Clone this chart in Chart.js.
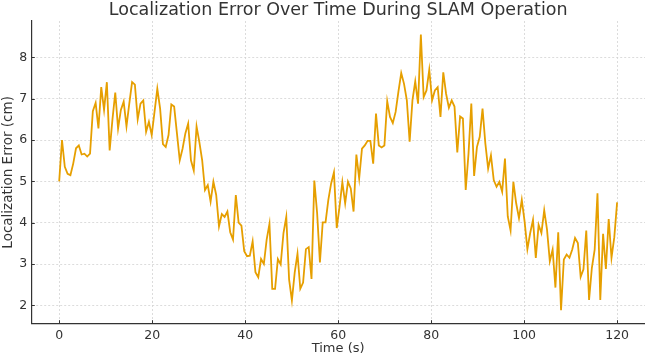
<!DOCTYPE html>
<html>
<head>
<meta charset="utf-8">
<script src="https://cdn.jsdelivr.net/npm/chart.js@4.4.0/dist/chart.umd.min.js"></script>
<style>
  html, body { margin: 0; padding: 0; background: #fff; }
  #wrap { width: 645px; height: 359px; }
</style>
</head>
<body>
<div id="wrap"><canvas id="errChart" width="645" height="359"></canvas></div>
<script>
// time samples: 200 evenly spaced readings between 0 s and 120 s
var tStart = 0, tEnd = 120, sampleCount = 200;

// localization error (cm)
var errorCm = [
  5.0, 6.0, 5.35, 5.18, 5.15, 5.43, 5.8, 5.87, 5.65, 5.67,
  5.6, 5.67, 6.7, 6.9, 6.28, 7.28, 6.73, 7.4, 5.75, 6.5,
  7.15, 6.28, 6.73, 6.93, 6.33, 6.88, 7.4, 7.34, 6.5, 6.88,
  6.96, 6.2, 6.44, 6.12, 6.68, 7.24, 6.76, 5.9, 5.83, 6.12,
  6.86, 6.81, 6.16, 5.51, 5.79, 6.16, 6.4, 5.51, 5.26, 6.33,
  5.95, 5.51, 4.79, 4.91, 4.51, 4.99, 4.67, 3.91, 4.21, 4.14,
  4.27, 3.77, 3.59, 4.67, 4.0, 3.93, 3.31, 3.19, 3.2, 3.55,
  2.8, 2.68, 3.12, 3.0, 3.59, 3.97, 2.4, 2.4, 3.12, 2.99,
  3.75, 4.14, 2.63, 2.12, 2.79, 3.25, 2.4, 2.55, 3.36, 3.41,
  2.64, 5.02, 4.23, 3.04, 4.01, 4.01, 4.55, 4.95, 5.22, 3.87,
  4.39, 4.98, 4.47, 4.99, 4.83, 4.27, 5.65, 5.07, 5.79, 5.87,
  5.98, 5.98, 5.43, 6.64, 5.87, 5.82, 5.87, 6.94, 6.56, 6.41,
  6.68, 7.17, 7.62, 7.36, 6.96, 5.96, 6.96, 7.42, 6.88, 8.55,
  7.04, 7.2, 7.7, 6.96, 7.2, 7.28, 6.56, 7.64, 7.12, 6.78,
  6.96, 6.81, 5.7, 6.57, 6.52, 4.79, 5.67, 6.88, 5.13, 5.83,
  6.08, 6.76, 5.92, 5.31, 5.63, 5.03, 4.87, 4.99, 4.75, 5.55,
  4.15, 3.81, 4.99, 4.47, 4.11, 4.55, 4.03, 3.36, 3.75, 4.07,
  3.15, 3.95, 3.75, 4.3, 3.83, 3.07, 3.35, 2.43, 3.77, 1.88,
  3.11, 3.23, 3.15, 3.35, 3.63, 3.51, 2.69, 2.87, 3.81, 2.13,
  2.91, 3.35, 4.71, 2.13, 3.73, 2.88, 4.09, 3.15, 3.65, 4.49
];

var xTicks = [0, 20, 40, 60, 80, 100, 120];
var yTicks = [2, 3, 4, 5, 6, 7, 8];

var points = [];
for (var i = 0; i < errorCm.length; i++) {
  points.push({ x: tStart + i * (tEnd - tStart) / (sampleCount - 1), y: errorCm[i] });
}

var textColor = '#333333';
var gridColor = '#d4d4d4';
var font = 'DejaVu Sans';

// matplotlib-style inward tick marks
var inwardTicks = {
  id: 'inwardTicks',
  afterLayout: function(chart) {
    // center the title over the plot area, not the whole canvas
    var tb = chart.titleBlock;
    if (tb) {
      tb.left = chart.chartArea.left;
      tb.right = chart.chartArea.right;
      tb.width = tb.right - tb.left;
    }
  },
  afterDraw: function(chart) {
    var c = chart.ctx, a = chart.chartArea;
    var xs = chart.scales.x, ys = chart.scales.y;
    c.save();
    c.strokeStyle = textColor;
    c.lineWidth = 1;
    xTicks.forEach(function(v) {
      var px = Math.round(xs.getPixelForValue(v)) + 0.5;
      c.beginPath(); c.moveTo(px, a.bottom); c.lineTo(px, a.bottom - 3.5); c.stroke();
    });
    yTicks.forEach(function(v) {
      var py = Math.round(ys.getPixelForValue(v)) + 0.5;
      c.beginPath(); c.moveTo(a.left, py); c.lineTo(a.left + 3.5, py); c.stroke();
    });
    c.restore();
  }
};

var ctx = document.getElementById('errChart').getContext('2d');
var chart = new Chart(ctx, {
  type: 'line',
  data: {
    datasets: [{
      label: 'Localization Error',
      data: points,
      borderColor: '#e69f00',
      borderWidth: 1.8,
      pointRadius: 0,
      tension: 0,
      fill: false
    }]
  },
  options: {
    responsive: false,
    animation: false,
    layout: { padding: 0 },
    plugins: {
      legend: { display: false },
      tooltip: { enabled: false },
      title: {
        display: true,
        text: 'Localization Error Over Time During SLAM Operation',
        color: textColor,
        font: { family: font, size: 17.5, weight: 'normal' },
        padding: { top: 0, bottom: 0 }
      }
    },
    scales: {
      x: {
        type: 'linear',
        min: -6,
        max: 126,
        afterBuildTicks: function(scale) {
          scale.ticks = xTicks.map(function(v) { return { value: v }; });
        },
        afterFit: function(scale) { scale.height = 35.3; },
        grid: { color: gridColor, lineWidth: 0.8, drawTicks: false },
        border: { display: true, color: textColor, width: 1.2, dash: [2, 2] },
        ticks: { color: textColor, font: { family: font, size: 12.5 }, padding: 5, maxRotation: 0 },
        title: {
          display: true,
          text: 'Time (s)',
          color: textColor,
          font: { family: font, size: 13 },
          padding: { top: 0, bottom: 3 }
        }
      },
      y: {
        min: 1.556,
        max: 8.88,
        afterBuildTicks: function(scale) {
          scale.ticks = yTicks.map(function(v) { return { value: v }; });
        },
        afterFit: function(scale) { scale.width = 31.3; },
        grid: { color: gridColor, lineWidth: 0.8, drawTicks: false },
        border: { display: true, color: textColor, width: 1.2, dash: [2, 2] },
        ticks: { color: textColor, font: { family: font, size: 12.5 }, padding: 4 },
        title: {
          display: true,
          text: 'Localization Error (cm)',
          color: textColor,
          font: { family: font, size: 13.5 },
          padding: { top: 0, bottom: 0 }
        }
      }
    }
  },
  plugins: [inwardTicks]
});
</script>
</body>
</html>
